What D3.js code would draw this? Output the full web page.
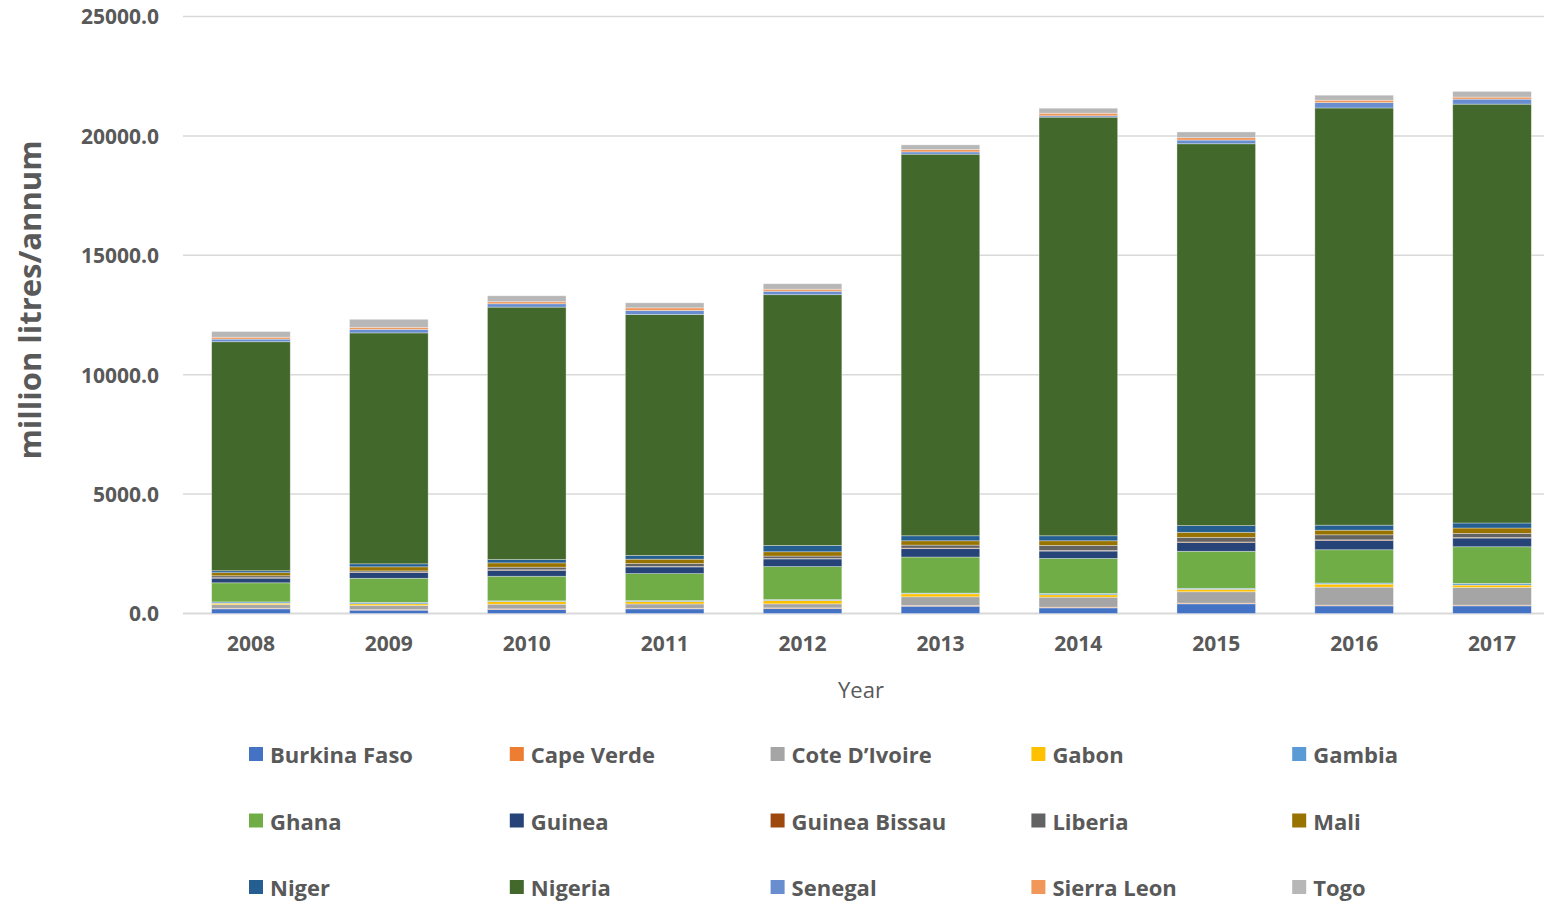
<!DOCTYPE html>
<html>
<head>
<meta charset="utf-8">
<script src="https://cdn.jsdelivr.net/npm/d3@7"></script>
<style>
  html, body { margin: 0; padding: 0; background: #fff; }
  svg { display: block; }
  text { font-family: "Open Sans", "Noto Sans", sans-serif; }
</style>
</head>
<body>
<svg id="chart" width="1544" height="901"></svg>
<script>
// Fuel consumption by country, million litres per annum
const years = ["2008", "2009", "2010", "2011", "2012", "2013", "2014", "2015", "2016", "2017"];

const countries = ["Burkina Faso", "Cape Verde", "Cote D\u2019Ivoire", "Gabon", "Gambia",
  "Ghana", "Guinea", "Guinea Bissau", "Liberia", "Mali",
  "Niger", "Nigeria", "Senegal", "Sierra Leon", "Togo"];

const burkinaFaso  = [195, 140, 170, 195, 210, 305, 235, 405, 320, 320];
const capeVerde    = [25, 25, 25, 25, 25, 30, 30, 30, 30, 30];
const coteDIvoire  = [150, 170, 195, 180, 170, 365, 420, 475, 755, 740];
const gabon        = [60, 70, 110, 100, 140, 125, 100, 100, 125, 100];
const gambia       = [55, 60, 30, 40, 40, 30, 55, 45, 45, 70];
const ghana        = [800, 1010, 1030, 1130, 1380, 1510, 1465, 1550, 1395, 1535];
const guinea       = [195, 240, 250, 280, 320, 350, 310, 365, 390, 365];
const guineaBissau = [20, 20, 20, 20, 20, 25, 25, 25, 25, 25];
const liberia      = [80, 50, 110, 125, 100, 125, 210, 195, 210, 170];
const mali         = [130, 170, 180, 180, 180, 180, 195, 210, 195, 225];
const niger        = [80, 125, 140, 155, 265, 210, 210, 280, 210, 210];
const nigeria      = [9590, 9670, 10570, 10090, 10500, 15980, 17530, 15990, 17470, 17540];
const senegal      = [110, 150, 140, 170, 145, 95, 55, 155, 225, 210];
const sierraLeon   = [80, 85, 85, 110, 85, 100, 110, 100, 100, 85];
const togo         = [240, 335, 250, 210, 230, 195, 210, 240, 210, 240];

const seriesValues = [burkinaFaso, capeVerde, coteDIvoire, gabon, gambia,
  ghana, guinea, guineaBissau, liberia, mali,
  niger, nigeria, senegal, sierraLeon, togo];

const colors = ["#4472C4", "#ED7D31", "#A5A5A5", "#FFC000", "#5B9BD5",
  "#70AD47", "#264478", "#9E480E", "#636363", "#997300",
  "#255E91", "#43682B", "#698ED0", "#F1975A", "#B7B7B7"];

const yTicks = [0, 5000, 10000, 15000, 20000, 25000];

// rows of the table used by d3.stack
const table = years.map((y, i) => {
  const row = { year: y };
  countries.forEach((c, k) => { row[c] = seriesValues[k][i]; });
  return row;
});

const svg = d3.select("#chart");

const x = d3.scaleBand().domain(years).range([182, 1561]).paddingInner(0.43).paddingOuter(0.215);
const y = d3.scaleLinear().domain([0, 25000]).range([613.5, 16.5]);
const color = d3.scaleOrdinal().domain(countries).range(colors);

// gridlines
svg.append("g")
  .selectAll("line")
  .data(yTicks)
  .join("line")
  .attr("x1", 183).attr("x2", 1544)
  .attr("y1", d => y(d)).attr("y2", d => y(d))
  .attr("stroke", "#d9d9d9")
  .attr("stroke-width", d => d === 0 ? 2 : 1.5);

// y tick labels
const yAxis = d3.axisLeft(y).tickValues(yTicks).tickFormat(d3.format(".1f")).tickSize(0).tickPadding(0);
svg.append("g")
  .attr("transform", "translate(159,0)")
  .call(yAxis)
  .call(g => g.select(".domain").remove())
  .call(g => g.selectAll("text")
    .attr("font-family", "'Open Sans', sans-serif")
    .attr("font-size", 21)
    .attr("font-weight", 700)
    .attr("fill", "#595959")
    .attr("dy", "0.35em"));

// stacked bars
const stacked = d3.stack().keys(countries)(table);
svg.append("g")
  .selectAll("g")
  .data(stacked)
  .join("g")
  .attr("fill", d => color(d.key))
  .selectAll("rect")
  .data(d => d)
  .join("rect")
  .attr("x", d => x(d.data.year))
  .attr("width", x.bandwidth())
  .attr("y", d => y(d[1]))
  .attr("height", d => Math.max(0, y(d[0]) - y(d[1])))
  .attr("stroke", "rgba(255,255,255,0.45)")
  .attr("stroke-width", 0.75);

// x axis labels
const xAxis = d3.axisBottom(x).tickSize(0).tickPadding(0);
svg.append("g")
  .attr("transform", "translate(0,644)")
  .call(xAxis)
  .call(g => g.select(".domain").remove())
  .call(g => g.selectAll("text")
    .attr("font-family", "'Open Sans', sans-serif")
    .attr("font-size", 21)
    .attr("font-weight", 700)
    .attr("fill", "#595959")
    .attr("dy", "0.35em"));

// axis titles
svg.append("text")
  .attr("x", 861).attr("y", 689)
  .attr("text-anchor", "middle")
  .attr("dominant-baseline", "central")
  .attr("font-size", 22)
  .attr("fill", "#595959")
  .text("Year");

svg.append("text")
  .attr("transform", "translate(29,300) rotate(-90)")
  .attr("text-anchor", "middle")
  .attr("dominant-baseline", "central")
  .attr("font-size", 31)
  .attr("font-weight", 700)
  .attr("fill", "#595959")
  .text("million litres/annum");

// legend: 5 columns x 3 rows
const legend = svg.append("g")
  .selectAll("g")
  .data(countries)
  .join("g")
  .attr("transform", (d, i) => `translate(${249 + (i % 5) * 260.8},${754 + Math.floor(i / 5) * 66.5})`);

legend.append("rect")
  .attr("x", 0).attr("y", -7)
  .attr("width", 14).attr("height", 14)
  .attr("fill", d => color(d));

legend.append("text")
  .attr("x", 21).attr("y", 0)
  .attr("dominant-baseline", "central")
  .attr("font-size", 22)
  .attr("font-weight", 700)
  .attr("fill", "#595959")
  .text(d => d);
</script>
</body>
</html>
